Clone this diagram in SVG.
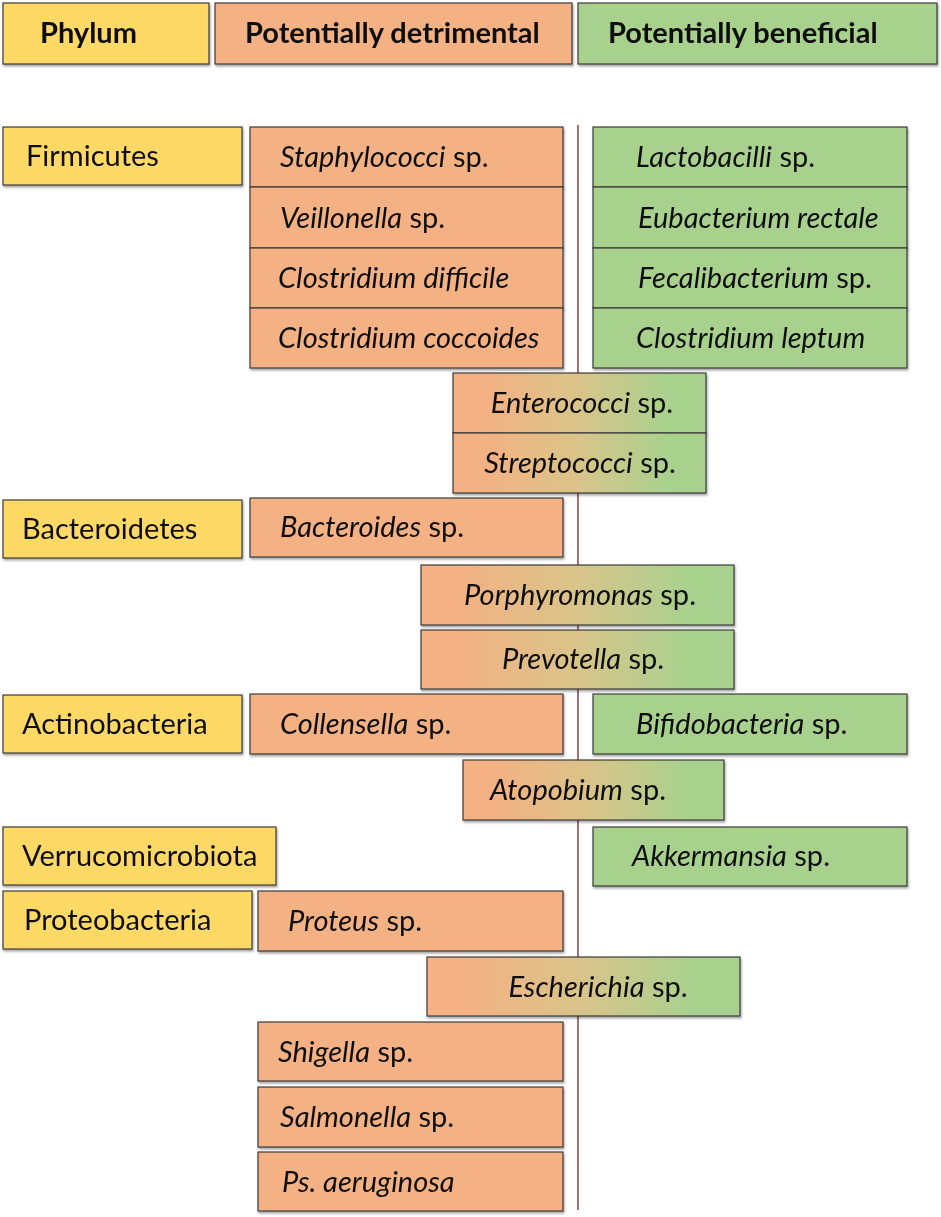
<svg xmlns="http://www.w3.org/2000/svg" width="941" height="1217" viewBox="0 0 941 1217">
<style>
text{font-family:Lato,"Open Sans","Liberation Sans",sans-serif;font-size:29px;fill:#111}
.h{font-weight:bold;font-size:29px}
.i{font-style:italic}
.y{fill:#FFD966;stroke:#3a3a3a;stroke-width:1.2}
.o{fill:#F4B183;stroke:#3a3a3a;stroke-width:1.2}
.g{fill:#A9D18E;stroke:#3a3a3a;stroke-width:1.2}
.m{fill:url(#grad);stroke:#3a3a3a;stroke-width:1.2}
.c{text-anchor:middle}
</style>
<defs>
<linearGradient id="grad" x1="0" y1="0" x2="1" y2="0">
<stop offset="0.12" stop-color="#F4B183"/>
<stop offset="0.5" stop-color="#D9C48A"/>
<stop offset="0.85" stop-color="#A9D18E"/>
</linearGradient>
<filter id="sh" x="-5%" y="-10%" width="110%" height="130%">
<feDropShadow dx="1" dy="2" stdDeviation="1" flood-color="#000" flood-opacity="0.35"/>
</filter>
</defs>
<rect width="941" height="1217" fill="#fff"/>
<g id="connectors">
<line x1="578" y1="125" x2="578" y2="1210" stroke="#8B4040" stroke-width="1.5"/>
</g>
<g id="hdr-phylum" filter="url(#sh)"><rect class="y" x="3" y="3" width="206" height="61"/><text class="h" x="40" y="43">Phylum</text></g>
<g id="hdr-detrimental" filter="url(#sh)"><rect class="o" x="215" y="3" width="357" height="61"/><text class="h" x="245" y="43">Potentially detrimental</text></g>
<g id="hdr-beneficial" filter="url(#sh)"><rect class="g" x="578" y="3" width="359" height="61"/><text class="h" x="608" y="43">Potentially beneficial</text></g>

<g id="firmicutes" filter="url(#sh)"><rect class="y" x="3" y="127" width="239" height="58"/><text x="26" y="166">Firmicutes</text></g>
<g id="staphylococci" filter="url(#sh)"><rect class="o" x="250" y="127" width="313" height="60"/><text x="280" y="167"><tspan class="i">Staphylococci</tspan> sp.</text></g>
<g id="veillonella" filter="url(#sh)"><rect class="o" x="250" y="187" width="313" height="61"/><text x="280" y="228"><tspan class="i">Veillonella</tspan> sp.</text></g>
<g id="cdifficile" filter="url(#sh)"><rect class="o" x="250" y="248" width="313" height="60"/><text x="278" y="288" class="i">Clostridium difficile</text></g>
<g id="ccoccoides" filter="url(#sh)"><rect class="o" x="250" y="308" width="313" height="60"/><text x="278" y="348" class="i">Clostridium coccoides</text></g>
<g id="lactobacilli" filter="url(#sh)"><rect class="g" x="593" y="127" width="314" height="60"/><text x="636" y="167"><tspan class="i">Lactobacilli</tspan> sp.</text></g>
<g id="eubacterium" filter="url(#sh)"><rect class="g" x="593" y="187" width="314" height="61"/><text x="638" y="228" class="i">Eubacterium rectale</text></g>
<g id="fecalibacterium" filter="url(#sh)"><rect class="g" x="593" y="248" width="314" height="60"/><text x="638" y="288"><tspan class="i">Fecalibacterium</tspan> sp.</text></g>
<g id="cleptum" filter="url(#sh)"><rect class="g" x="593" y="308" width="314" height="60"/><text x="636" y="348" class="i">Clostridium leptum</text></g>

<g id="enterococci" filter="url(#sh)"><rect class="m" x="453" y="373" width="253" height="60"/><text class="c" x="582" y="413"><tspan class="i">Enterococci</tspan> sp.</text></g>
<g id="streptococci" filter="url(#sh)"><rect class="m" x="453" y="433" width="253" height="60"/><text class="c" x="580" y="473"><tspan class="i">Streptococci</tspan> sp.</text></g>

<g id="bacteroidetes" filter="url(#sh)"><rect class="y" x="3" y="500" width="239" height="58"/><text x="22" y="539">Bacteroidetes</text></g>
<g id="bacteroides" filter="url(#sh)"><rect class="o" x="250" y="498" width="313" height="59"/><text x="280" y="537"><tspan class="i">Bacteroides</tspan> sp.</text></g>
<g id="porphyromonas" filter="url(#sh)"><rect class="m" x="421" y="565" width="313" height="60"/><text class="c" x="580" y="605"><tspan class="i">Porphyromonas</tspan> sp.</text></g>
<g id="prevotella" filter="url(#sh)"><rect class="m" x="421" y="630" width="313" height="59"/><text class="c" x="583" y="669"><tspan class="i">Prevotella</tspan> sp.</text></g>

<g id="actinobacteria" filter="url(#sh)"><rect class="y" x="3" y="695" width="239" height="58"/><text x="22" y="734">Actinobacteria</text></g>
<g id="collensella" filter="url(#sh)"><rect class="o" x="250" y="694" width="313" height="60"/><text x="280" y="734"><tspan class="i">Collensella</tspan> sp.</text></g>
<g id="bifidobacteria" filter="url(#sh)"><rect class="g" x="593" y="694" width="314" height="60"/><text x="636" y="734"><tspan class="i">Bifidobacteria</tspan> sp.</text></g>
<g id="atopobium" filter="url(#sh)"><rect class="m" x="463" y="760" width="261" height="60"/><text class="c" x="578" y="800"><tspan class="i">Atopobium</tspan> sp.</text></g>

<g id="verrucomicrobiota" filter="url(#sh)"><rect class="y" x="3" y="827" width="273" height="58"/><text x="22" y="866">Verrucomicrobiota</text></g>
<g id="akkermansia" filter="url(#sh)"><rect class="g" x="593" y="827" width="314" height="59"/><text x="632" y="866"><tspan class="i">Akkermansia</tspan> sp.</text></g>

<g id="proteobacteria" filter="url(#sh)"><rect class="y" x="3" y="891" width="249" height="58"/><text x="24" y="930">Proteobacteria</text></g>
<g id="proteus" filter="url(#sh)"><rect class="o" x="258" y="891" width="305" height="60"/><text x="288" y="931"><tspan class="i">Proteus</tspan> sp.</text></g>
<g id="escherichia" filter="url(#sh)"><rect class="m" x="427" y="957" width="313" height="59"/><text class="c" x="598" y="997"><tspan class="i">Escherichia</tspan> sp.</text></g>
<g id="shigella" filter="url(#sh)"><rect class="o" x="258" y="1022" width="305" height="59"/><text x="278" y="1062"><tspan class="i">Shigella</tspan> sp.</text></g>
<g id="salmonella" filter="url(#sh)"><rect class="o" x="258" y="1087" width="305" height="60"/><text x="280" y="1127"><tspan class="i">Salmonella</tspan> sp.</text></g>
<g id="psaeruginosa" filter="url(#sh)"><rect class="o" x="258" y="1152" width="305" height="59"/><text x="282" y="1192" class="i">Ps. aeruginosa</text></g>
</svg>
